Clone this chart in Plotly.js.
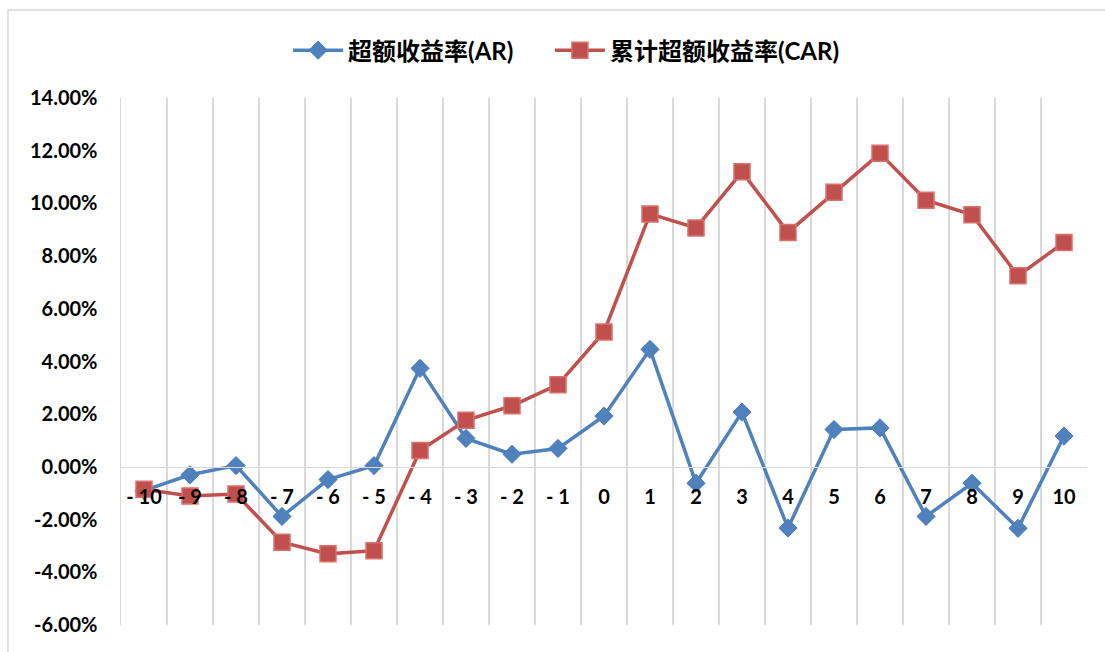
<!DOCTYPE html>
<html>
<head>
<meta charset="utf-8">
<script src="https://cdn.plot.ly/plotly-3.0.1.min.js"></script>
<style>
  html, body { margin: 0; padding: 0; background: #ffffff; }
  #chart { width: 1105px; height: 652px; }
</style>
</head>
<body>
<div id="chart"></div>
<script>
// Event-window days around the announcement date
var days = ["- 10", "- 9", "- 8", "- 7", "- 6", "- 5", "- 4", "- 3", "- 2", "- 1",
            "0", "1", "2", "3", "4", "5", "6", "7", "8", "9", "10"];

// Daily abnormal return (AR), in percent
var arValues = [-0.90, -0.30, 0.05, -1.88, -0.48, 0.05, 3.74, 1.08, 0.48, 0.70,
                1.93, 4.46, -0.62, 2.08, -2.32, 1.42, 1.48, -1.88, -0.62, -2.33, 1.17];

// Cumulative abnormal return (CAR), in percent
var carValues = [-0.85, -1.10, -1.03, -2.86, -3.30, -3.18, 0.62, 1.77, 2.32, 3.12,
                 5.12, 9.60, 9.07, 11.20, 8.90, 10.42, 11.90, 10.12, 9.57, 7.25, 8.52];

// Series names
var arName = "超额收益率(AR)";
var carName = "累计超额收益率(CAR)";

// Value-axis ticks and their labels
var yTicks = [-6, -4, -2, 0, 2, 4, 6, 8, 10, 12, 14];
var yTickLabels = ["-6.00%", "-4.00%", "-2.00%", "0.00%", "2.00%", "4.00%",
                   "6.00%", "8.00%", "10.00%", "12.00%", "14.00%"];

var yMin = yTicks[0];
var yMax = yTicks[yTicks.length - 1];

var labelFont = { family: "Lato, 'Noto Sans CJK SC', sans-serif", size: 20, color: "#000000", weight: "bold" };
var legendFont = { family: "Lato, 'Noto Sans CJK SC', sans-serif", size: 24, color: "#000000", weight: "bold" };
var gridGray = "#d9d9d9";

var traces = [
  {
    type: "scatter",
    mode: "lines+markers",
    name: arName,
    legend: "legend",
    x: days,
    y: arValues,
    line: { color: "#4F81BD", width: 3.5 },
    marker: { symbol: "diamond", size: 14, color: "#4F81BD", line: { color: "#4A7EBB", width: 1 } },
    cliponaxis: false
  },
  {
    type: "scatter",
    mode: "lines+markers",
    name: carName,
    legend: "legend2",
    x: days,
    y: carValues,
    line: { color: "#C0504D", width: 3.5 },
    marker: { symbol: "square", size: 16, color: "#C0504D", line: { color: "#D9706D", width: 1.5 } },
    cliponaxis: false
  }
];

// One legend box per series, side by side above the plot
function legendBox(xPos) {
  return {
    orientation: "h",
    x: xPos,
    xanchor: "left",
    y: 1.09,
    yanchor: "middle",
    font: legendFont,
    itemwidth: 50,
    bgcolor: "rgba(0,0,0,0)"
  };
}

var layout = {
  width: 1105,
  height: 652,
  margin: { l: 121, r: 18, t: 98, b: 27 },
  paper_bgcolor: "#ffffff",
  plot_bgcolor: "#ffffff",
  showlegend: true,
  hovermode: false,
  legend: legendBox(0.173),
  legend2: legendBox(0.444),
  xaxis: {
    type: "category",
    range: [-0.5, days.length - 0.5],
    tickson: "boundaries",
    showgrid: true,
    gridcolor: gridGray,
    gridwidth: 1.5,
    anchor: "free",
    position: (0 - yMin) / (yMax - yMin),
    showline: true,
    linecolor: gridGray,
    linewidth: 1.5,
    ticks: "",
    ticklabelstandoff: 12,
    tickfont: labelFont,
    zeroline: false,
    fixedrange: true
  },
  yaxis: {
    range: [yMin, yMax],
    tickvals: yTicks,
    ticktext: yTickLabels,
    showgrid: false,
    zeroline: false,
    showline: true,
    linecolor: gridGray,
    linewidth: 1.5,
    ticks: "",
    ticklabelstandoff: 18,
    tickfont: labelFont,
    fixedrange: true
  },
  shapes: [
    {
      type: "rect",
      xref: "paper",
      yref: "paper",
      x0: -0.117,
      x1: 1.1,
      y0: -0.2,
      y1: 1.167,
      line: { color: gridGray, width: 1.5 },
      layer: "below"
    }
  ]
};

Plotly.newPlot("chart", traces, layout, { displayModeBar: false, staticPlot: true });
</script>
</body>
</html>
